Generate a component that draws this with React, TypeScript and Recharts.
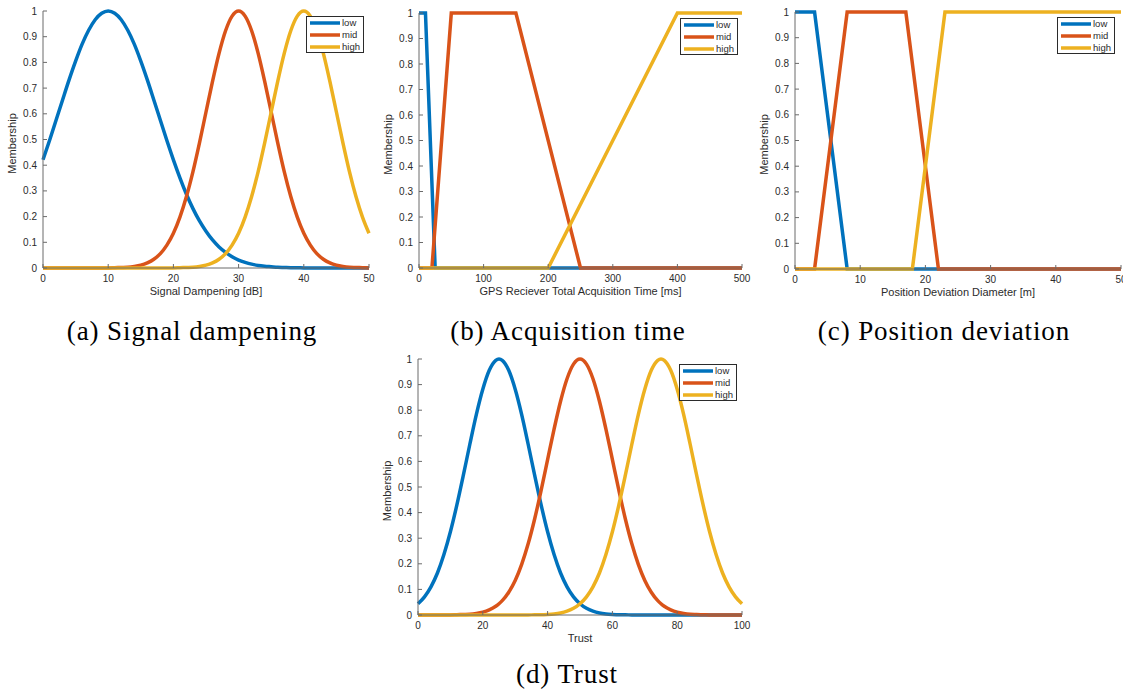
import React from 'react';
import { LineChart, Line, XAxis, YAxis, Legend } from 'recharts';

const LOW = '#0072BD';
const MID = '#D95319';
const HIGH = '#EDB120';
const AXIS = '#6b6b6b';
const INK = '#2b2b2b';

const memTicks = [0, 0.1, 0.2, 0.3, 0.4, 0.5, 0.6, 0.7, 0.8, 0.9, 1];

// (a) signal dampening [dB]
const dampX = [0, 1, 2, 3, 4, 5, 6, 7, 8, 9, 10, 11, 12, 13, 14, 15, 16, 17, 18, 19, 20, 21, 22, 23, 24, 25,
  26, 27, 28, 29, 30, 31, 32, 33, 34, 35, 36, 37, 38, 39, 40, 41, 42, 43, 44, 45, 46, 47, 48, 49, 50];
const dampLow = [0.421, 0.496, 0.575, 0.654, 0.732, 0.805, 0.871, 0.925, 0.966, 0.991, 1, 0.991, 0.966, 0.925,
  0.871, 0.805, 0.732, 0.654, 0.575, 0.496, 0.421, 0.351, 0.287, 0.231, 0.183, 0.143, 0.109, 0.082, 0.061, 0.044,
  0.031, 0.022, 0.015, 0.01, 0.007, 0.005, 0.003, 0.002, 0.001, 0.001, 0, 0, 0, 0, 0, 0, 0, 0, 0, 0, 0];
const dampMid = [0, 0, 0, 0, 0, 0, 0, 0, 0, 0, 0, 0.001, 0.002, 0.003, 0.006, 0.011, 0.02, 0.034, 0.056, 0.089,
  0.135, 0.198, 0.278, 0.375, 0.487, 0.607, 0.726, 0.835, 0.923, 0.98, 1, 0.98, 0.923, 0.835, 0.726, 0.607, 0.487,
  0.375, 0.278, 0.198, 0.135, 0.089, 0.056, 0.034, 0.02, 0.011, 0.006, 0.003, 0.002, 0.001, 0];
const dampHigh = [0, 0, 0, 0, 0, 0, 0, 0, 0, 0, 0, 0, 0, 0, 0, 0, 0, 0, 0, 0, 0, 0.001, 0.002, 0.003, 0.006, 0.011,
  0.02, 0.034, 0.056, 0.089, 0.135, 0.198, 0.278, 0.375, 0.487, 0.607, 0.726, 0.835, 0.923, 0.98, 1, 0.98, 0.923,
  0.835, 0.726, 0.607, 0.487, 0.375, 0.278, 0.198, 0.135];

// (b) acquisition time [ms]
const acqLowX = [0, 10, 25, 500];
const acqLowY = [1, 1, 0, 0];
const acqMidX = [0, 20, 50, 150, 250, 500];
const acqMidY = [0, 0, 1, 1, 0, 0];
const acqHighX = [0, 200, 400, 500];
const acqHighY = [0, 0, 1, 1];

// (c) position deviation [m]
const posLowX = [0, 3, 8, 50];
const posLowY = [1, 1, 0, 0];
const posMidX = [0, 3, 8, 17, 22, 50];
const posMidY = [0, 0, 1, 1, 0, 0];
const posHighX = [0, 18, 23, 50];
const posHighY = [0, 0, 1, 1];

// (d) trust
const trustX = [0, 2, 4, 6, 8, 10, 12, 14, 16, 18, 20, 22, 24, 25, 26, 28, 30, 32, 34, 36, 38, 40, 42, 44, 46, 48,
  50, 52, 54, 56, 58, 60, 62, 64, 66, 68, 70, 72, 74, 75, 76, 78, 80, 82, 84, 86, 88, 90, 92, 94, 96, 98, 100];
const trustLow = [0.044, 0.071, 0.11, 0.164, 0.236, 0.325, 0.43, 0.546, 0.667, 0.783, 0.882, 0.956, 0.995, 1,
  0.995, 0.956, 0.882, 0.783, 0.667, 0.546, 0.43, 0.325, 0.236, 0.164, 0.11, 0.071, 0.044, 0.026, 0.015, 0.008,
  0.004, 0.002, 0.001, 0.001, 0, 0, 0, 0, 0, 0, 0, 0, 0, 0, 0, 0, 0, 0, 0, 0, 0, 0, 0];
const trustMid = [0, 0, 0, 0, 0, 0, 0.001, 0.002, 0.003, 0.006, 0.011, 0.02, 0.034, 0.044, 0.056, 0.089, 0.135,
  0.198, 0.278, 0.375, 0.487, 0.607, 0.726, 0.835, 0.923, 0.98, 1, 0.98, 0.923, 0.835, 0.726, 0.607, 0.487, 0.375,
  0.278, 0.198, 0.135, 0.089, 0.056, 0.044, 0.034, 0.02, 0.011, 0.006, 0.003, 0.002, 0.001, 0, 0, 0, 0, 0, 0];
const trustHigh = [0, 0, 0, 0, 0, 0, 0, 0, 0, 0, 0, 0, 0, 0, 0, 0, 0, 0, 0, 0.001, 0.001, 0.002, 0.004, 0.008,
  0.015, 0.026, 0.044, 0.071, 0.11, 0.164, 0.236, 0.325, 0.43, 0.546, 0.667, 0.783, 0.882, 0.956, 0.995, 1, 0.995,
  0.956, 0.882, 0.783, 0.667, 0.546, 0.43, 0.325, 0.236, 0.164, 0.11, 0.071, 0.044];

type Pt = { x: number; y: number };
type Series = { name: string; color: string; data: Pt[] };

const pts = (xs: number[], ys: number[]): Pt[] => xs.map((x, i) => ({ x, y: ys[i] }));

const series = (lo: Pt[], mi: Pt[], hi: Pt[]): Series[] => [
  { name: 'low', color: LOW, data: lo },
  { name: 'mid', color: MID, data: mi },
  { name: 'high', color: HIGH, data: hi },
];

// MATLAB style: inward ticks on all four sides
const BottomTick = (p: any) => (
  <g>
    <line x1={p.x} x2={p.x} y1={p.y} y2={p.y - 4} stroke={AXIS} />
    <text x={p.x} y={p.y + 14} textAnchor="middle" fontSize={10} fill={INK}>{p.payload.value}</text>
  </g>
);
const LeftTick = (p: any) => (
  <g>
    <line x1={p.x} x2={p.x + 4} y1={p.y} y2={p.y} stroke={AXIS} />
    <text x={p.x - 6} y={p.y + 3.5} textAnchor="end" fontSize={10} fill={INK}>{p.payload.value}</text>
  </g>
);
const TopTick = (p: any) => <line x1={p.x} x2={p.x} y1={p.y} y2={p.y + 4} stroke={AXIS} />;
const RightTick = (p: any) => <line x1={p.x} x2={p.x - 4} y1={p.y} y2={p.y} stroke={AXIS} />;

const LegendBox = ({ items }: { items: Series[] }) => (
  <div style={{ boxSizing: 'border-box', width: 58, height: 37, border: `1px solid ${INK}`, background: '#fff', paddingTop: 0 }}>
    {items.map((s) => (
      <div key={s.name} style={{ display: 'flex', alignItems: 'center', height: 12 }}>
        <svg width={30} height={12} style={{ marginLeft: 3 }}>
          <line x1={0} x2={30} y1={6} y2={6} stroke={s.color} strokeWidth={3.5} />
        </svg>
        <span style={{ fontSize: 9.5, color: INK, marginLeft: 2, lineHeight: '12px' }}>{s.name}</span>
      </div>
    ))}
  </div>
);

type PanelProps = {
  left: number; top: number; width: number; height: number;
  margin: { top: number; right: number; bottom: number; left: number };
  yWidth: number; xHeight: number;
  xMax: number; xTicks: number[]; xLabel: string;
  items: Series[]; curve: 'monotone' | 'linear';
  legendAt: { left: number; top: number };
};

const Panel = (p: PanelProps) => (
  <div style={{ position: 'absolute', left: p.left, top: p.top }}>
    <LineChart width={p.width} height={p.height} margin={p.margin} style={{ fontFamily: '"Liberation Sans", Arial, sans-serif' }}>
      <XAxis type="number" dataKey="x" domain={[0, p.xMax]} ticks={p.xTicks} interval={0} height={p.xHeight}
        tickLine={false} tickSize={0} tickMargin={0} tick={<BottomTick />} axisLine={{ stroke: AXIS }}
        label={(lp: any) => {
          const vb = lp.viewBox;
          return <text x={vb.x + vb.width / 2} y={vb.y + 27} textAnchor="middle" fontSize={11} fill={INK}>{p.xLabel}</text>;
        }} />
      <XAxis xAxisId="top" orientation="top" type="number" dataKey="x" domain={[0, p.xMax]} ticks={p.xTicks} interval={0}
        height={0} tickLine={false} tickSize={0} tickMargin={0} tick={<TopTick />} axisLine={{ stroke: AXIS }} />
      <YAxis type="number" domain={[0, 1]} ticks={memTicks} interval={0} width={p.yWidth}
        tickLine={false} tickSize={0} tickMargin={0} tick={<LeftTick />} axisLine={{ stroke: AXIS }}
        label={(lp: any) => {
          const vb = lp.viewBox;
          const cx = vb.x + vb.width - 27;
          const cy = vb.y + vb.height / 2 + 4;
          return <text x={cx} y={cy} transform={`rotate(-90 ${cx} ${cy})`} textAnchor="middle" fontSize={11} fill={INK}>Membership</text>;
        }} />
      <YAxis yAxisId="right" orientation="right" type="number" domain={[0, 1]} ticks={memTicks} interval={0} width={0}
        tickLine={false} tickSize={0} tickMargin={0} tick={<RightTick />} axisLine={{ stroke: AXIS }} />
      {p.items.map((s) => (
        <Line key={s.name} name={s.name} data={s.data} dataKey="y" type={p.curve} stroke={s.color}
          strokeWidth={3.5} dot={false} activeDot={false} isAnimationActive={false} />
      ))}
      <Legend layout="vertical" align="center" verticalAlign="middle"
        wrapperStyle={{ left: p.legendAt.left, top: p.legendAt.top, width: 'auto' }}
        content={() => <LegendBox items={p.items} />} />
    </LineChart>
  </div>
);

const captionStyle: React.CSSProperties = {
  position: 'absolute', textAlign: 'center', fontFamily: '"Liberation Serif", "DejaVu Serif", serif',
  fontSize: 27, lineHeight: '27px', letterSpacing: 0.9, color: '#000', whiteSpace: 'nowrap',
};

export default function App() {
  return (
    <div style={{ position: 'absolute', left: 0, top: 0, width: 1123, height: 695, background: '#fff', overflow: 'hidden' }}>
      <Panel left={0} top={0} width={380} height={300} margin={{ top: 11, right: 11, bottom: 0, left: 0 }}
        yWidth={43} xHeight={32} xMax={50} xTicks={[0, 10, 20, 30, 40, 50]} xLabel="Signal Dampening [dB]"
        items={series(pts(dampX, dampLow), pts(dampX, dampMid), pts(dampX, dampHigh))} curve="monotone"
        legendAt={{ left: 306, top: 16 }} />
      <Panel left={375} top={0} width={380} height={300} margin={{ top: 13, right: 13, bottom: 0, left: 0 }}
        yWidth={44} xHeight={32} xMax={500} xTicks={[0, 100, 200, 300, 400, 500]} xLabel="GPS Reciever Total Acquisition Time [ms]"
        items={series(pts(acqLowX, acqLowY), pts(acqMidX, acqMidY), pts(acqHighX, acqHighY))} curve="linear"
        legendAt={{ left: 305, top: 18 }} />
      <Panel left={750} top={0} width={373} height={300} margin={{ top: 12, right: 2, bottom: 0, left: 0 }}
        yWidth={45} xHeight={31} xMax={50} xTicks={[0, 10, 20, 30, 40, 50]} xLabel="Position Deviation Diameter [m]"
        items={series(pts(posLowX, posLowY), pts(posMidX, posMidY), pts(posHighX, posHighY))} curve="linear"
        legendAt={{ left: 307, top: 17 }} />
      <Panel left={375} top={345} width={380} height={300} margin={{ top: 14, right: 13, bottom: 0, left: 0 }}
        yWidth={43} xHeight={30} xMax={100} xTicks={[0, 20, 40, 60, 80, 100]} xLabel="Trust"
        items={series(pts(trustX, trustLow), pts(trustX, trustMid), pts(trustX, trustHigh))} curve="monotone"
        legendAt={{ left: 304, top: 19 }} />
      <div style={{ ...captionStyle, left: 2, top: 318, width: 380 }}>(a) Signal dampening</div>
      <div style={{ ...captionStyle, left: 378, top: 318, width: 380 }}>(b) Acquisition time</div>
      <div style={{ ...captionStyle, left: 764, top: 318, width: 360 }}>(c) Position deviation</div>
      <div style={{ ...captionStyle, left: 387, top: 661, width: 360 }}>(d) Trust</div>
    </div>
  );
}
